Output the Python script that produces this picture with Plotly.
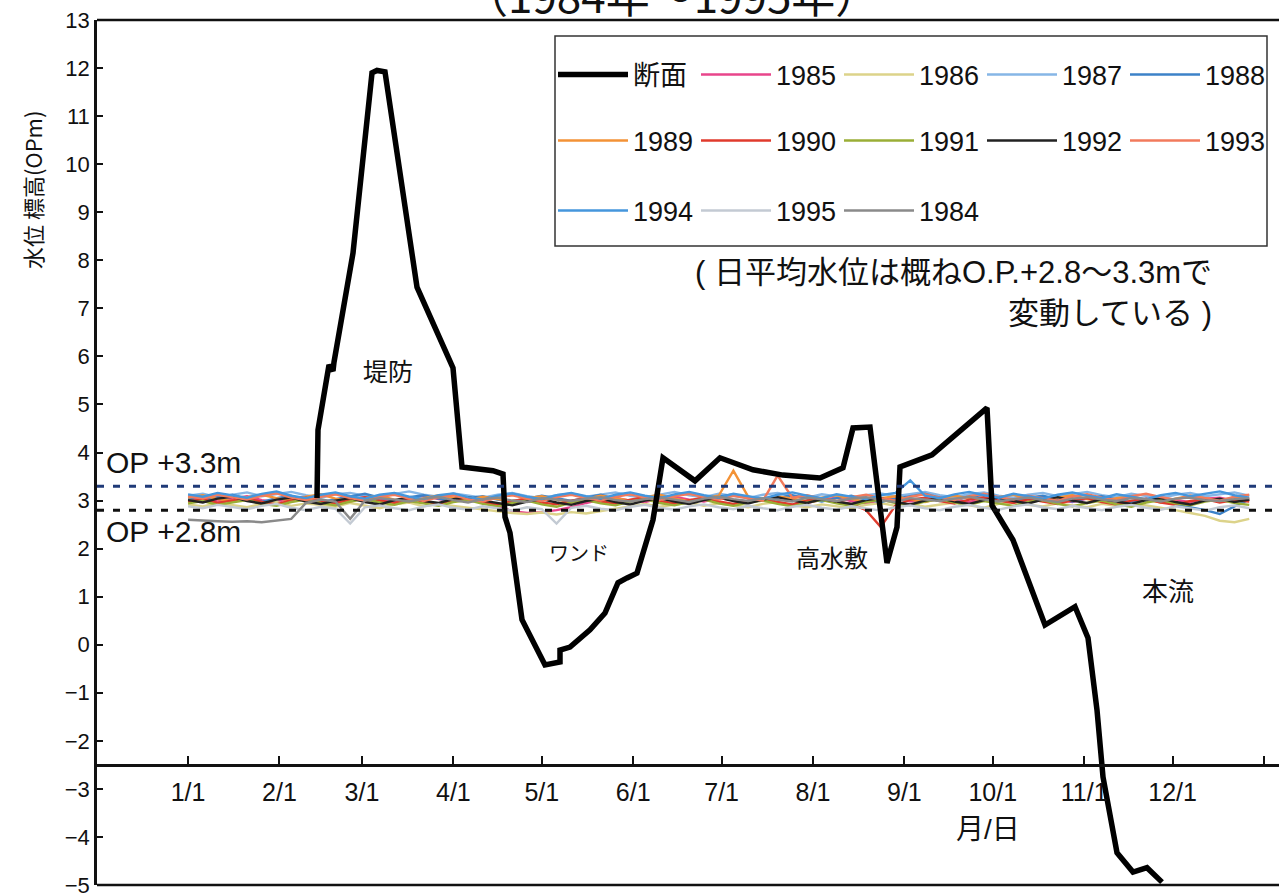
import plotly.graph_objects as go

# ---- axis tick labels (month starts, day-of-year) ----
month_labels = ["1/1", "2/1", "3/1", "4/1", "5/1", "6/1", "7/1", "8/1",
                "9/1", "10/1", "11/1", "12/1", ""]
month_days = [1, 32, 60, 91, 121, 152, 182, 213, 244, 274, 305, 335, 366]

# day-of-year of each daily-mean sample (every 5th day)
sample_days = list(range(1, 366, 5))

# ---- daily mean water level, O.P. m ----
wl_1985 = [3.02, 3.06, 2.98, 3.04, 3.09, 3.01, 2.97, 3.05, 3.08, 3.00,
           2.96, 3.03, 3.07, 3.02, 2.98, 3.05, 3.10, 3.03, 2.99, 3.04,
           2.95, 2.88, 2.78, 2.74, 2.76, 2.80, 2.86, 2.95, 3.02, 3.06,
           3.00, 2.97, 3.04, 3.08, 3.02, 2.98, 3.05, 3.01, 2.96, 3.03,
           3.07, 3.00, 2.95, 3.02, 3.06, 2.99, 2.94, 3.01, 3.05, 2.98,
           3.03, 3.08, 3.01, 2.97, 3.04, 3.09, 3.02, 2.98, 3.05, 3.01,
           2.97, 3.04, 3.08, 3.00, 2.96, 3.03, 3.07, 3.01, 2.97, 3.04,
           3.06, 3.00, 3.03]
wl_1986 = [2.92, 2.88, 2.95, 2.90, 2.86, 2.93, 2.97, 2.89, 2.94, 2.91,
           2.87, 2.95, 2.90, 2.84, 2.92, 2.96, 2.88, 2.93, 2.89, 2.85,
           2.82, 2.78, 2.74, 2.72, 2.75, 2.71, 2.76, 2.73, 2.78, 2.82,
           2.88, 2.93, 2.87, 2.92, 2.96, 2.89, 2.94, 2.90, 2.86, 2.93,
           2.97, 2.90, 2.86, 2.92, 2.88, 2.84, 2.91, 2.95, 2.89, 2.93,
           2.87, 2.92, 2.96, 2.90, 2.85, 2.93, 2.97, 2.91, 2.88, 2.94,
           2.90, 2.86, 2.93, 2.89, 2.95, 2.90, 2.86, 2.80, 2.74, 2.68,
           2.58, 2.55, 2.62]
wl_1987 = [3.10, 3.14, 3.07, 3.12, 3.17, 3.09, 3.13, 3.18, 3.11, 3.06,
           3.13, 3.16, 3.10, 3.07, 3.14, 3.19, 3.12, 3.08, 3.15, 3.11,
           3.06, 3.12, 3.16, 3.09, 3.05, 3.11, 3.15, 3.08, 3.13, 3.17,
           3.10, 3.06, 3.12, 3.18, 3.11, 3.07, 3.14, 3.09, 3.05, 3.12,
           3.16, 3.10, 3.06, 3.13, 3.08, 3.04, 3.11, 3.15, 3.09, 3.14,
           3.18, 3.11, 3.07, 3.13, 3.17, 3.10, 3.06, 3.12, 3.16, 3.09,
           3.13, 3.18, 3.11, 3.07, 3.14, 3.10, 3.05, 3.12, 3.16, 3.09,
           3.13, 3.17, 3.10]
wl_1988 = [3.04, 2.99, 3.07, 3.12, 3.03, 2.97, 3.05, 3.10, 3.01, 2.96,
           3.03, 3.08, 3.14, 3.06, 3.00, 3.07, 3.11, 3.04, 2.98, 3.05,
           3.09, 3.02, 2.97, 3.04, 3.10, 3.05, 2.99, 3.06, 3.12, 3.03,
           2.98, 3.05, 3.09, 3.02, 2.96, 3.03, 3.08, 3.13, 3.05, 3.00,
           3.06, 3.11, 3.04, 2.98, 3.05, 3.10, 3.02, 2.97, 3.04, 3.09,
           3.14, 3.06, 3.01, 3.07, 3.12, 3.04, 2.99, 3.06, 3.10, 3.03,
           2.98, 3.05, 3.09, 3.02, 2.96, 3.04, 2.98, 2.92, 2.86, 2.80,
           2.72, 2.88, 3.02]
wl_1989 = [3.06, 3.11, 3.03, 2.99, 3.07, 3.12, 3.05, 3.00, 3.08, 3.13,
           3.04, 2.98, 3.06, 3.10, 3.02, 2.97, 3.05, 3.11, 3.06, 3.01,
           3.08, 3.03, 2.98, 3.05, 3.09, 3.02, 2.96, 3.04, 3.10, 3.05,
           3.00, 3.07, 3.12, 3.04, 2.99, 3.06, 3.10, 3.62, 3.08, 3.02,
           3.09, 3.04, 2.99, 3.06, 3.11, 3.03, 2.98, 3.05, 3.09, 3.02,
           2.97, 3.04, 3.10, 3.05, 3.00, 3.07, 3.12, 3.04, 2.99, 3.06,
           3.11, 3.03, 2.98, 3.05, 3.09, 3.02, 2.96, 3.04, 3.10, 3.05,
           3.00, 3.07, 3.03]
wl_1990 = [2.98, 3.03, 2.95, 3.00, 3.05, 2.97, 2.92, 3.01, 3.06, 2.99,
           2.94, 3.02, 3.07, 3.00, 2.95, 3.03, 2.98, 2.93, 3.01, 3.05,
           2.97, 2.91, 2.99, 3.04, 2.96, 2.92, 3.00, 3.05, 2.98, 2.94,
           3.02, 3.07, 2.99, 2.94, 3.01, 3.06, 2.98, 2.93, 3.00, 3.04,
           2.97, 2.92, 3.00, 3.05, 2.98, 2.93, 2.80, 2.45, 2.90, 3.02,
           3.06, 2.99, 2.94, 3.02, 3.07, 3.00, 2.95, 3.03, 2.98, 2.93,
           3.01, 3.05, 2.97, 2.92, 3.00, 3.04, 2.96, 2.91, 2.99, 3.03,
           2.96, 3.01, 2.98]
wl_1991 = [2.94, 2.99, 2.91, 2.96, 3.01, 2.93, 2.89, 2.97, 3.02, 2.95,
           2.90, 2.98, 3.03, 2.96, 2.91, 2.99, 2.94, 2.89, 2.97, 3.01,
           2.93, 2.88, 2.95, 3.00, 2.92, 2.87, 2.96, 3.01, 2.94, 2.90,
           2.98, 3.03, 2.95, 2.90, 2.97, 3.02, 2.94, 2.89, 2.96, 3.00,
           2.93, 2.88, 2.96, 3.01, 2.94, 2.89, 2.97, 3.02, 2.95, 2.90,
           2.98, 3.03, 2.96, 2.91, 2.99, 2.94, 2.89, 2.97, 3.01, 2.93,
           2.88, 2.95, 3.00, 2.92, 2.87, 2.96, 3.01, 2.94, 2.90, 2.98,
           3.02, 2.95, 2.91]
wl_1992 = [3.01, 2.96, 3.04, 3.08, 2.99, 2.94, 3.02, 3.06, 2.98, 2.93,
           3.00, 3.05, 2.97, 2.92, 3.01, 3.06, 2.99, 2.95, 3.03, 3.07,
           3.00, 2.95, 2.90, 2.98, 3.03, 2.96, 2.91, 2.99, 3.04, 2.97,
           2.92, 3.00, 3.05, 2.98, 2.93, 3.01, 3.06, 2.99, 2.94, 3.02,
           3.07, 3.00, 2.95, 3.03, 2.98, 2.93, 3.01, 3.05, 2.97, 2.92,
           3.00, 3.05, 2.98, 2.93, 3.01, 3.06, 2.99, 2.94, 3.02, 3.07,
           3.00, 2.95, 3.03, 2.98, 2.93, 3.01, 3.05, 2.97, 2.92, 3.00,
           3.04, 2.97, 3.02]
wl_1993 = [3.09, 3.04, 3.12, 3.07, 3.02, 3.10, 3.15, 3.06, 3.01, 3.08,
           3.13, 3.05, 3.00, 3.08, 3.12, 3.04, 2.99, 3.07, 3.11, 3.03,
           2.98, 3.06, 3.11, 3.04, 2.99, 3.07, 3.12, 3.05, 3.00, 3.08,
           3.13, 3.06, 3.01, 3.09, 3.14, 3.07, 3.02, 3.10, 3.05, 3.00,
           3.52, 3.06, 3.11, 3.04, 2.99, 3.07, 3.12, 3.05, 3.00, 3.08,
           3.13, 3.06, 3.01, 3.09, 3.14, 3.07, 3.02, 3.10, 3.05, 3.00,
           3.08, 3.13, 3.06, 3.01, 3.09, 3.14, 3.07, 3.02, 3.10, 3.05,
           3.00, 3.08, 3.12]
wl_1994 = [3.13, 3.08, 3.16, 3.11, 3.06, 3.14, 3.19, 3.10, 3.05, 3.12,
           3.17, 3.09, 3.04, 3.12, 3.16, 3.08, 3.03, 3.11, 3.15, 3.07,
           3.02, 3.10, 3.15, 3.08, 3.03, 3.11, 3.16, 3.09, 3.04, 3.12,
           3.17, 3.10, 3.05, 3.13, 3.18, 3.11, 3.06, 3.14, 3.09, 3.04,
           3.12, 3.17, 3.10, 3.05, 3.13, 3.08, 3.03, 3.11, 3.16, 3.42,
           3.10, 3.05, 3.13, 3.18, 3.11, 3.06, 3.14, 3.09, 3.04, 3.12,
           3.17, 3.10, 3.05, 3.13, 3.08, 3.03, 3.11, 3.16, 3.09, 3.14,
           3.19, 3.11, 3.06]
wl_1995 = [2.88, 2.84, 2.91, 2.86, 2.82, 2.89, 2.93, 2.85, 2.80, 2.87,
           2.83, 2.52, 2.86, 2.90, 2.84, 2.80, 2.88, 2.92, 2.85, 2.81,
           2.88, 2.84, 2.79, 2.86, 2.82, 2.52, 2.85, 2.89, 2.83, 2.80,
           2.87, 2.91, 2.85, 2.81, 2.88, 2.92, 2.86, 2.82, 2.89, 2.84,
           2.80, 2.87, 2.91, 2.85, 2.81, 2.88, 2.84, 2.79, 2.86, 2.90,
           2.84, 2.80, 2.87, 2.91, 2.85, 2.81, 2.88, 2.92, 2.86, 2.82,
           2.89, 2.84, 2.80, 2.87, 2.91, 2.85, 2.81, 2.88, 2.83, 2.79,
           2.86, 2.90, 2.84]
wl_1984 = [2.60, 2.58, 2.57, 2.56, 2.57, 2.55, 2.58, 2.62, 2.95, 3.02,
           2.98, 2.62, 3.00, 3.05, 3.02, 2.98, 3.04, 3.08, 3.01, 2.96,
           3.03, 3.06, 3.00, 2.97, 3.05, 3.02, 2.99, 3.04, 3.07, 3.01,
           2.98, 3.03, 3.06, 3.02, 2.97, 3.04, 3.08, 3.03, 2.99, 3.05,
           3.02, 2.98, 3.06, 3.03, 2.99, 3.04, 3.07, 3.01, 2.97, 3.05,
           3.02, 2.99, 3.04, 3.08, 3.02, 2.98, 3.03, 3.06, 3.01, 2.97,
           3.04, 3.07, 3.02, 2.99, 3.05, 3.03, 2.98, 3.04, 3.06, 3.01,
           2.99, 3.03, 3.05]

# ---- river cross-section (断面): distance (m) and elevation (O.P. m) ----
section_dist = [110, 110.5, 116, 118, 118.5, 128, 137.5, 140, 144, 160,
                178, 182.5, 198, 203, 204, 206.5, 212.5, 224, 231.5, 231.5,
                236.5, 246.5, 254, 260.5, 265, 270, 278, 283, 299, 311.5,
                328, 343, 361.5, 373, 378, 386.5, 395, 400, 401.5, 417.5,
                445, 447.5, 458, 474, 489, 495.5, 500, 503, 510, 518,
                525, 532.5]
section_elev = [3.05, 4.47, 5.82, 5.70, 5.88, 8.15, 11.90, 11.95, 11.92, 7.44,
                5.76, 3.70, 3.62, 3.55, 2.66, 2.33, 0.52, -0.42, -0.36, -0.11,
                -0.05, 0.31, 0.66, 1.29, 1.39, 1.49, 2.60, 3.89, 3.41, 3.89,
                3.64, 3.53, 3.47, 3.68, 4.51, 4.53, 1.70, 2.45, 3.70, 3.95,
                4.93, 2.90, 2.18, 0.41, 0.79, 0.14, -1.36, -2.75, -4.33, -4.73,
                -4.64, -4.94]

# reference levels of the usual water-level range
op_levels = [3.3, 2.8]
op_colors = ["#1f3a78", "#111111"]

years = [
    ("1985", wl_1985, "#e8458b"),
    ("1986", wl_1986, "#dcd38a"),
    ("1987", wl_1987, "#86b6e6"),
    ("1988", wl_1988, "#3c82c8"),
    ("1989", wl_1989, "#f39236"),
    ("1990", wl_1990, "#e03a2c"),
    ("1991", wl_1991, "#9aae36"),
    ("1992", wl_1992, "#222222"),
    ("1993", wl_1993, "#f27a5c"),
    ("1994", wl_1994, "#4596dc"),
    ("1995", wl_1995, "#c3cad3"),
    ("1984", wl_1984, "#8a8a8a"),
]
legend_rows = {"1985": "legend", "1986": "legend", "1987": "legend", "1988": "legend",
               "1989": "legend2", "1990": "legend2", "1991": "legend2",
               "1992": "legend2", "1993": "legend2",
               "1994": "legend3", "1995": "legend3", "1984": "legend3"}

LAT = "Liberation Sans, Arial, sans-serif"
CJK = "Noto Sans CJK JP, sans-serif"
MIX = "Liberation Sans, Noto Sans CJK JP, sans-serif"

W, H = 1279, 894
ML, MR, MT, MB = 97, 0, 20, 9
Y0, Y1 = -5, 13
X0, X1 = -29.9, 371.1
AXIS_Y = -2.5


def px_x(px):
    return (px - ML) / (W - ML - MR)


def px_y(py):
    return (H - MB - py) / (H - MT - MB)


fig = go.Figure()

fig.add_trace(go.Scatter(
    x=section_dist, y=section_elev, name="断面", mode="lines",
    xaxis="x2", yaxis="y", legend="legend",
    line=dict(color="#000000", width=5.5), hoverinfo="skip"))

for name, vals, color in years:
    fig.add_trace(go.Scatter(
        x=sample_days[:len(vals)], y=vals, name=name, mode="lines",
        legend=legend_rows[name],
        line=dict(color=color, width=2.4)))

shapes = []
for lvl, col in zip(op_levels, op_colors):
    shapes.append(dict(type="line", xref="paper", yref="y", x0=0, x1=1,
                       y0=lvl, y1=lvl, line=dict(color=col, width=3, dash="7px,9px"),
                       layer="above"))
# plot frame: top and bottom edges (left edge is the y-axis line)
for edge in (0, 1):
    shapes.append(dict(type="line", xref="paper", yref="paper", x0=0, x1=1,
                       y0=edge, y1=edge, line=dict(color="#111", width=2.5)))
# legend box
shapes.append(dict(type="rect", xref="paper", yref="paper",
                   x0=px_x(555), x1=px_x(1267), y0=px_y(246), y1=px_y(36),
                   line=dict(color="#333", width=1.5), fillcolor="rgba(0,0,0,0)"))

ann = []


def note(text, px, py, size, family=CJK, xanchor="center", angle=0):
    ann.append(dict(text=text, x=px_x(px), y=px_y(py), xref="paper", yref="paper",
                    xanchor=xanchor, yanchor="middle", showarrow=False,
                    textangle=angle,
                    font=dict(family=family, size=size, color="#111")))


note("（1984年～1995年）", 671, -6, 44)
note("OP +3.3m", 104, 462, 30, family=LAT, xanchor="left")
note("OP +2.8m", 104, 531, 30, family=LAT, xanchor="left")
note("堤防", 388, 370, 25)
note("ワンド", 579, 552, 20)
note("高水敷", 832, 556, 24)
note("本流", 1168, 589, 26)
note("月/日", 988, 829, 28, family=MIX)
note("( 日平均水位は概ねO.P.+2.8～3.3mで", 1214, 272, 31, family=MIX, xanchor="right")
note("変動している )", 1214, 313, 31, family=MIX, xanchor="right")
note("水位 標高(OPm)", 32, 190, 22, angle=-90)

legend_common = dict(orientation="h", xanchor="left", yanchor="middle",
                     bgcolor="rgba(0,0,0,0)", borderwidth=0,
                     font=dict(family=MIX, size=27, color="#111"),
                     entrywidth=58, itemwidth=70, itemclick=False)

fig.update_layout(
    width=W, height=H,
    margin=dict(l=ML, r=MR, t=MT, b=MB, autoexpand=False),
    paper_bgcolor="white", plot_bgcolor="white",
    showlegend=True,
    xaxis=dict(range=[X0, X1], anchor="free", position=(AXIS_Y - Y0) / (Y1 - Y0),
               tickvals=month_days, ticktext=month_labels,
               ticks="inside", ticklen=8, tickwidth=2, tickcolor="#111",
               showline=True, linecolor="#111", linewidth=2.5,
               showgrid=False, zeroline=False, ticklabelstandoff=4,
               automargin=False,
               tickfont=dict(family=LAT, size=25, color="#111")),
    xaxis2=dict(range=[0, (W - ML - MR) / 2], overlaying="x", anchor="y",
                visible=False),
    yaxis=dict(range=[Y0, Y1], tickvals=list(range(Y0, Y1 + 1)),
               ticks="inside", ticklen=6, tickwidth=1.5, tickcolor="#111",
               showline=True, linecolor="#111", linewidth=2.5,
               showgrid=False, zeroline=False, ticklabeloverflow="allow",
               automargin=False,
               tickfont=dict(family=LAT, size=22, color="#111")),
    legend=dict(x=px_x(553), y=px_y(75), **legend_common),
    legend2=dict(x=px_x(553), y=px_y(141), **legend_common),
    legend3=dict(x=px_x(553), y=px_y(211), **legend_common),
    shapes=shapes,
    annotations=ann,
)

fig.write_html("out.html")
